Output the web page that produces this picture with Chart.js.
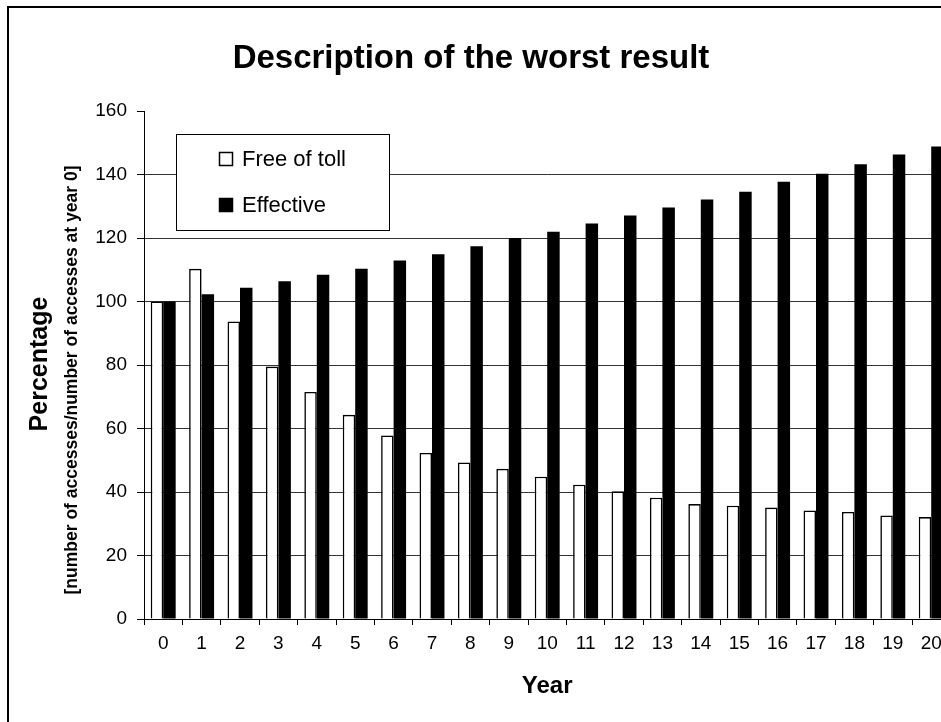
<!DOCTYPE html>
<html>
<head>
<meta charset="utf-8">
<script src="https://cdn.jsdelivr.net/npm/chart.js@4.4.1/dist/chart.umd.min.js"></script>
<style>
html,body{margin:0;padding:0;overflow:hidden;background:#fff;width:941px;height:722px;}
#wrap{position:absolute;left:0;top:0;width:960px;height:722px;}
canvas{display:block;}
</style>
</head>
<body>
<div id="wrap"><canvas id="c" width="960" height="722"></canvas></div>
<script>
const categories = ['0','1','2','3','4','5','6','7','8','9','10','11','12','13','14','15','16','17','18','19','20'];
const freeOfToll = [100,110.3,93.7,79.5,71.5,64.3,57.8,52.3,49.3,47.3,44.8,42.3,40.2,38.2,36.2,35.7,35.1,34.2,33.7,32.6,32.1];
const effective = [100,102.3,104.3,106.4,108.4,110.3,112.9,114.9,117.4,120.0,122.0,124.6,127.1,129.6,132.1,134.6,137.7,140.2,143.2,146.3,148.8];
const yMin = 0, yMax = 160, yStep = 20;
const seriesNames = ['Free of toll','Effective'];
const chartTitle = 'Description of the worst result';
const yTitle = 'Percentage';
const ySubtitle = '[number of accesses/number of accesses at year 0]';
const xTitle = 'Year';

const FONT = "'Liberation Sans', Arial, Helvetica, sans-serif";

const decorPlugin = {
  id: 'decor',
  beforeDraw(chart) {
    const ctx = chart.ctx;
    ctx.save();
    ctx.fillStyle = '#fff';
    ctx.fillRect(0, 0, chart.width, chart.height);
    ctx.strokeStyle = '#000';
    ctx.lineWidth = 2;
    ctx.strokeRect(8, 7, chart.width + 20, chart.height + 20);
    ctx.restore();
  },
  afterDraw(chart) {
    const ctx = chart.ctx;
    ctx.save();
    // title
    ctx.fillStyle = '#000';
    ctx.font = "bold 33px " + FONT;
    ctx.textAlign = 'center';
    ctx.textBaseline = 'alphabetic';
    ctx.fillText(chartTitle, 471, 68);
    // y titles
    ctx.save();
    ctx.translate(40, 364);
    ctx.rotate(-Math.PI / 2);
    ctx.font = "bold 25px " + FONT;
    ctx.textBaseline = 'middle';
    ctx.fillText(yTitle, 0, 0);
    ctx.restore();
    ctx.save();
    ctx.translate(72, 380);
    ctx.rotate(-Math.PI / 2);
    ctx.font = "bold 17.5px " + FONT;
    ctx.textBaseline = 'middle';
    ctx.fillText(ySubtitle, 0, 0);
    ctx.restore();
    // legend
    const lx = 176, ly = 134, lw = 213, lh = 96;
    ctx.fillStyle = '#fff';
    ctx.fillRect(lx, ly, lw, lh);
    ctx.strokeStyle = '#000';
    ctx.lineWidth = 1;
    ctx.strokeRect(lx + 0.5, ly + 0.5, lw, lh);
    const rows = [159, 205];
    chart.data.datasets.forEach((ds, i) => {
      const cy = rows[i];
      ctx.fillStyle = ds.backgroundColor;
      ctx.fillRect(219, cy - 7, 14, 14);
      ctx.strokeStyle = '#000';
      ctx.lineWidth = 1.5;
      ctx.strokeRect(219.5, cy - 6.5, 13, 13);
      ctx.fillStyle = '#000';
      ctx.font = "22px " + FONT;
      ctx.textAlign = 'left';
      ctx.textBaseline = 'middle';
      ctx.fillText(ds.label, 242, cy + 1);
    });
    ctx.restore();
  }
};

new Chart(document.getElementById('c'), {
  type: 'bar',
  data: {
    labels: categories,
    datasets: [
      { label: seriesNames[0], data: freeOfToll, backgroundColor: '#ffffff', borderColor: '#000000', borderWidth: 1.6 },
      { label: seriesNames[1], data: effective, backgroundColor: '#000000', borderColor: '#000000', borderWidth: 0 }
    ]
  },
  plugins: [decorPlugin],
  options: {
    responsive: false,
    animation: false,
    devicePixelRatio: 1,
    datasets: { bar: { categoryPercentage: 0.65, barPercentage: 1.0 } },
    layout: { padding: { top: 111, right: 9.6, bottom: 0, left: 0 } },
    plugins: { legend: { display: false }, title: { display: false }, tooltip: { enabled: false } },
    scales: {
      x: {
        offset: true,
        grid: { display: true, drawOnChartArea: false, drawTicks: true, tickLength: 6, color: '#000', offset: true },
        border: { display: true, color: '#000', width: 1 },
        ticks: { color: '#000', font: { family: FONT, size: 19 }, padding: 7, maxRotation: 0, autoSkip: false },
        title: { display: true, text: xTitle, color: '#000', font: { family: FONT, size: 24, weight: 'bold' }, padding: { top: 0, bottom: 21 } },
        afterFit(scale) { scale.height = 722 - 619; }
      },
      y: {
        min: yMin, max: yMax,
        grid: {
          color: (c) => (c.tick && c.tick.value === yMax) ? 'rgba(0,0,0,0)' : '#333',
          tickColor: '#000', tickLength: 7, lineWidth: 1
        },
        border: { display: true, color: '#000', width: 1 },
        ticks: { stepSize: yStep, color: '#000', font: { family: FONT, size: 19 }, padding: 10 },
        afterFit(scale) { scale.width = 144; }
      }
    }
  }
});
</script>
</body>
</html>
